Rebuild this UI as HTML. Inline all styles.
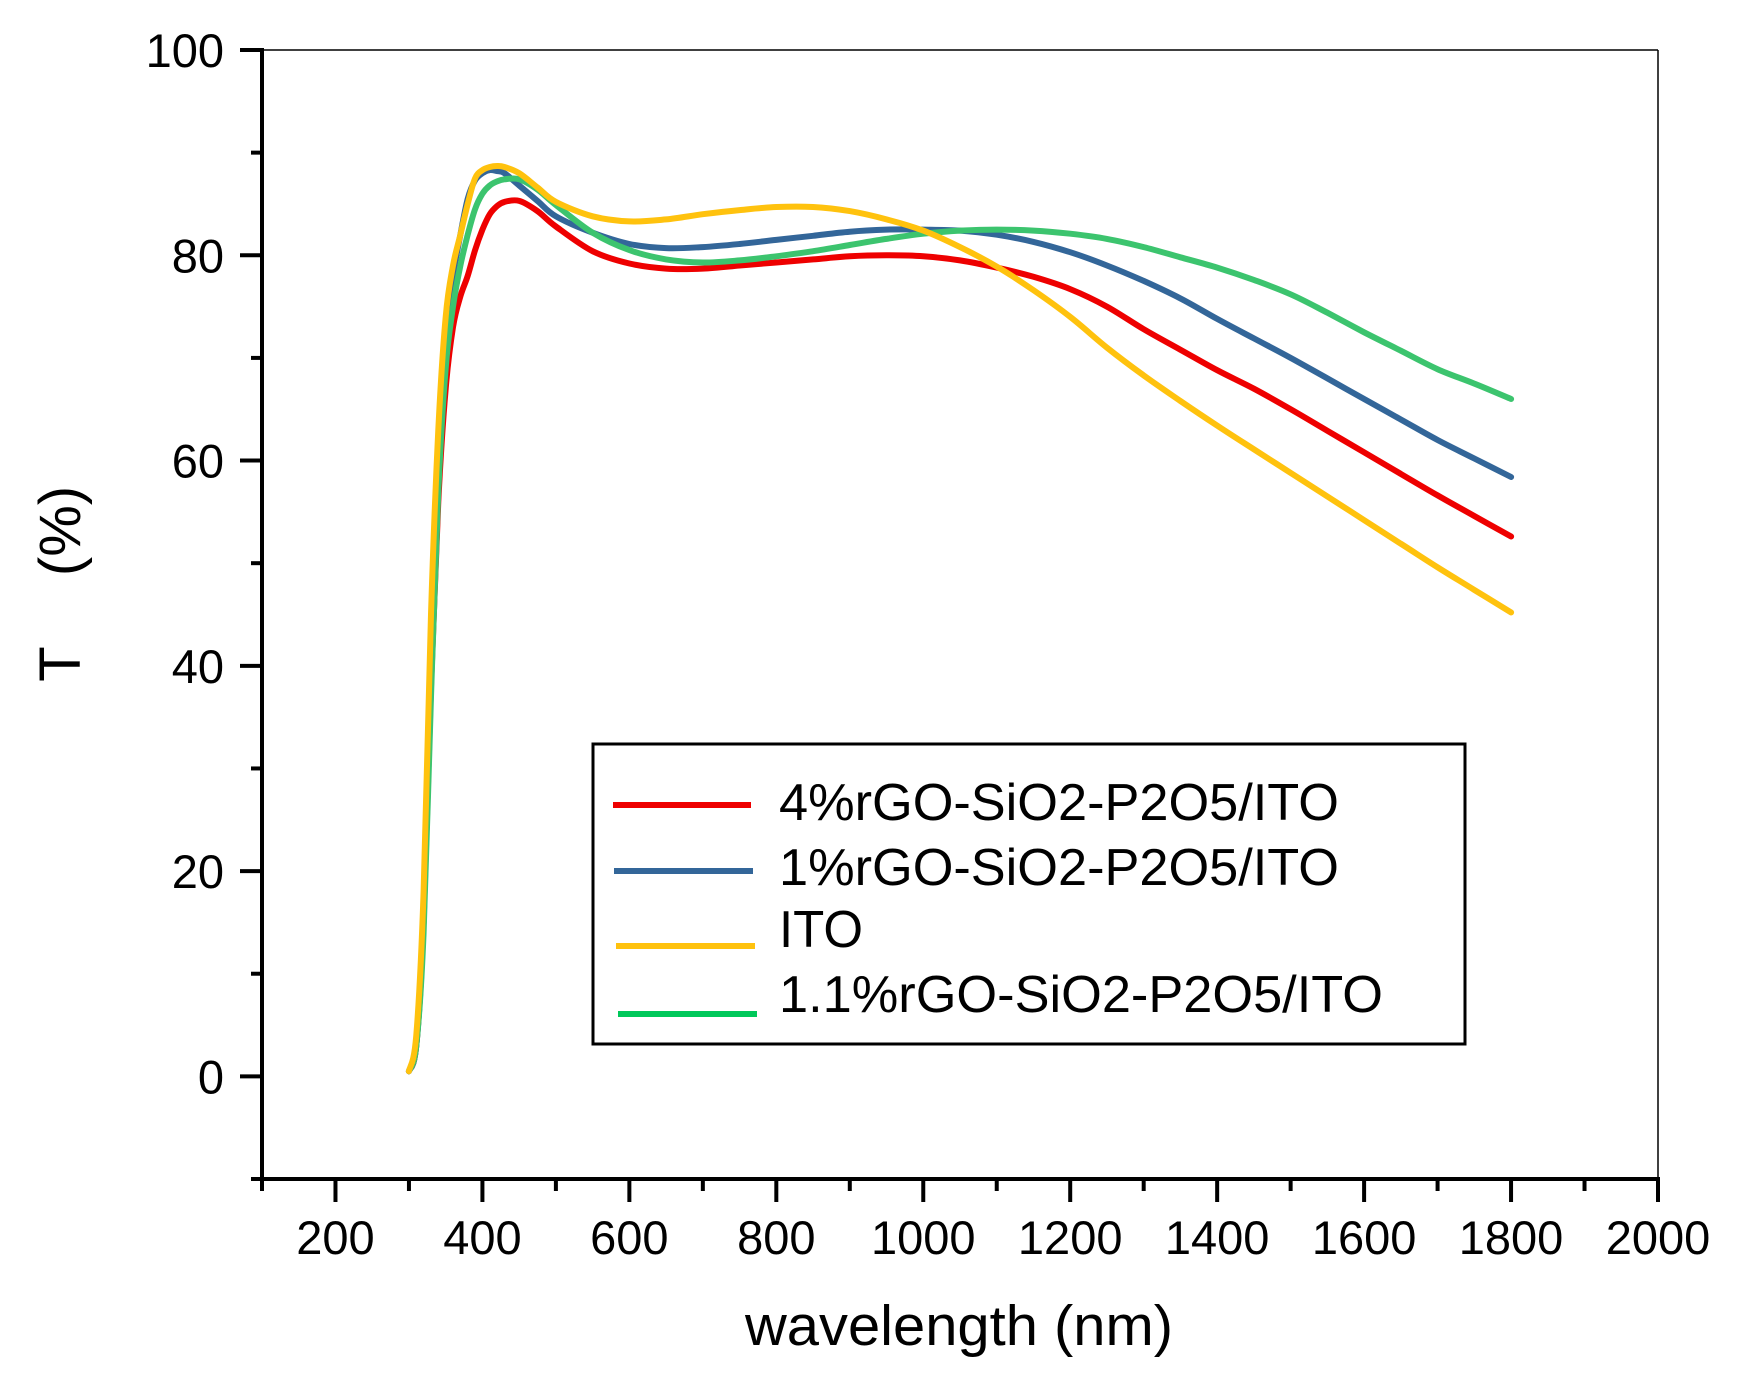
<!DOCTYPE html>
<html><head><meta charset="utf-8"><style>
html,body{margin:0;padding:0;background:#fff;}
svg{display:block;font-family:"Liberation Sans",sans-serif;}
</style></head><body>
<svg id="chart" width="1738" height="1383" viewBox="0 0 1738 1383" xmlns="http://www.w3.org/2000/svg">
<g id="axes"></g><g id="series"></g>
<g>
<rect x="593" y="744" width="872" height="300" fill="#fff" stroke="#000" stroke-width="3"/>
<line x1="613" y1="805" x2="751" y2="805" stroke="#ee0000" stroke-width="6"/>
<line x1="614" y1="871" x2="753" y2="871" stroke="#336699" stroke-width="6"/>
<line x1="616" y1="946" x2="755" y2="946" stroke="#ffc20e" stroke-width="6"/>
<line x1="618" y1="1014" x2="757" y2="1014" stroke="#00c85a" stroke-width="6"/>
<text x="779" y="820" font-size="52" textLength="560" lengthAdjust="spacingAndGlyphs">4%rGO-SiO2-P2O5/ITO</text>
<text x="779" y="885" font-size="52" textLength="560" lengthAdjust="spacingAndGlyphs">1%rGO-SiO2-P2O5/ITO</text>
<text x="779" y="947" font-size="52" textLength="84" lengthAdjust="spacingAndGlyphs">ITO</text>
<text x="779" y="1012" font-size="52" textLength="604" lengthAdjust="spacingAndGlyphs">1.1%rGO-SiO2-P2O5/ITO</text>
</g>
<text x="745" y="1345" font-size="57" textLength="428" lengthAdjust="spacingAndGlyphs">wavelength (nm)</text>
<text transform="translate(80,664) rotate(-90)" text-anchor="middle" font-size="58">T</text>
<text transform="translate(80,531) rotate(-90)" text-anchor="middle" font-size="58">(%)</text>
</svg>
<script>
const wavelengths = [300,310,320,330,340,350,360,370,380,390,400,410,420,430,450,475,500,550,600,650,700,750,800,850,900,950,1000,1050,1100,1150,1200,1250,1300,1350,1400,1450,1500,1550,1600,1650,1700,1750,1800];
const red4pct = [0.5,3,15,38,56,67,73,76,78,80.5,82.5,84,84.8,85.2,85.3,84.3,82.8,80.4,79.2,78.7,78.7,79,79.3,79.6,79.9,80,79.9,79.5,78.8,77.9,76.7,75,72.8,70.8,68.8,67,65,62.9,60.8,58.7,56.6,54.6,52.6];
const blue1pct = [0.5,3,15,40,60,72,78,82,85.5,87.3,88,88.3,88.2,88,86.8,85.3,83.8,82.2,81.1,80.7,80.8,81.1,81.5,81.9,82.3,82.5,82.5,82.4,82,81.3,80.3,79,77.5,75.8,73.8,71.9,70,68,66,64,62,60.2,58.4];
const itoOnly = [0.5,4,18,45,63,74,79,82,85,87.5,88.3,88.6,88.7,88.6,88,86.6,85.2,83.8,83.3,83.5,84,84.4,84.7,84.7,84.3,83.5,82.4,80.8,78.9,76.6,74,71,68.3,65.8,63.4,61.1,58.8,56.5,54.2,51.9,49.6,47.4,45.2];
const green11pct = [0.5,3,14,37,57,69,75,79,82,84.5,86,86.8,87.2,87.4,87.4,86.4,84.9,82.2,80.5,79.6,79.3,79.5,79.9,80.4,81,81.6,82.1,82.4,82.5,82.4,82.1,81.6,80.8,79.8,78.8,77.6,76.2,74.4,72.5,70.7,68.9,67.5,66];
const xTickLabels = [200,400,600,800,1000,1200,1400,1600,1800,2000];
const yTickLabels = [0,20,40,60,80,100];

const NS="http://www.w3.org/2000/svg";
const X0=262,X1=1658,Y0=1179,Y1=50;
const xMin=100,xMax=2000,yMin=-10,yMax=100;
const sx=v=>X0+(v-xMin)/(xMax-xMin)*(X1-X0);
const sy=v=>Y0-(v-yMin)/(yMax-yMin)*(Y0-Y1);
function mk(tag,attrs,parent){const e=document.createElementNS(NS,tag);for(const k in attrs)e.setAttribute(k,attrs[k]);parent.appendChild(e);return e;}
const axes=document.getElementById('axes');
let e;
e=mk('line',{x1:X0,y1:Y1,x2:X1,y2:Y1,stroke:'#000','stroke-width':1.5},axes);


e=mk('line',{x1:X1,y1:Y1,x2:X1,y2:Y0,stroke:'#000','stroke-width':1.5},axes);


e=mk('line',{x1:X0,y1:Y1-2,x2:X0,y2:Y0+2,stroke:'#000','stroke-width':4},axes);


e=mk('line',{x1:X0-2,y1:Y0,x2:X1+2,y2:Y0,stroke:'#000','stroke-width':4},axes);


for(let v=-10;v<=100;v+=10){
  const major=v%20===0;
  e=mk('line',{x1:X0-(major?22:11),y1:sy(v),x2:X0,y2:sy(v),stroke:'#000','stroke-width':4},axes);
  
  
}
yTickLabels.forEach(v=>{
  e=mk('text',{x:224,y:sy(v)+17,'text-anchor':'end','font-size':47},axes);
  e.textContent=v;
  
  
});
for(let v=100;v<=2000;v+=100){
  const major=v%200===0;
  e=mk('line',{x1:sx(v),y1:Y0,x2:sx(v),y2:Y0+(major?23:12),stroke:'#000','stroke-width':4},axes);
  
  
}
xTickLabels.forEach(v=>{
  e=mk('text',{x:sx(v),y:1254,'text-anchor':'middle','font-size':47},axes);
  e.textContent=v;
  
  
});
function smoothPath(pts){
  let d='M'+pts[0][0].toFixed(1)+','+pts[0][1].toFixed(1);
  for(let i=0;i<pts.length-1;i++){
    const p0=pts[Math.max(0,i-1)],p1=pts[i],p2=pts[i+1],p3=pts[Math.min(pts.length-1,i+2)];
    const c1=[p1[0]+(p2[0]-p0[0])/6,p1[1]+(p2[1]-p0[1])/6];
    const c2=[p2[0]-(p3[0]-p1[0])/6,p2[1]-(p3[1]-p1[1])/6];
    d+=' C'+c1[0].toFixed(1)+','+c1[1].toFixed(1)+' '+c2[0].toFixed(1)+','+c2[1].toFixed(1)+' '+p2[0].toFixed(1)+','+p2[1].toFixed(1);
  }
  return d;
}
const seriesG=document.getElementById('series');
const series=[[red4pct,'#ee0000','series-4pct'],[blue1pct,'#336699','series-1pct'],[green11pct,'#3cc46e','series-1-1pct'],[itoOnly,'#ffc20e','series-ito']];
series.forEach(([vals,col,name])=>{
  const pts=vals.map((v,i)=>[sx(wavelengths[i]),sy(v)]);
  const p=mk('path',{d:smoothPath(pts),fill:'none',stroke:col,'stroke-width':6,'stroke-linejoin':'round','stroke-linecap':'round'},seriesG);
  
  
});
</script>
</body></html>
